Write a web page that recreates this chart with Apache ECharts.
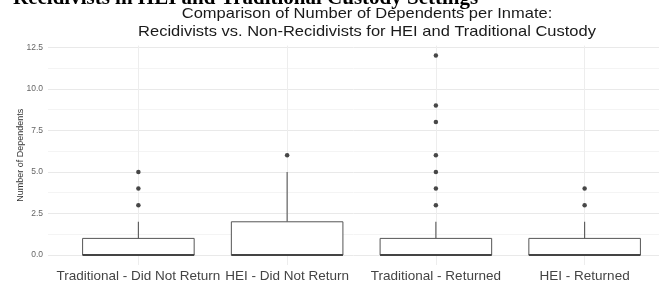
<!DOCTYPE html>
<html>
<head>
<meta charset="utf-8">
<script src="https://cdn.jsdelivr.net/npm/echarts@6/dist/echarts.min.js"></script>
<style>
  html, body { margin: 0; padding: 0; background: #fff; }
  #main { width: 659px; height: 284px; }
</style>
</head>
<body>
<div id="main"></div>
<script>
// groups on the x axis
var groups = [
  "Traditional - Did Not Return",
  "HEI - Did Not Return",
  "Traditional - Returned",
  "HEI - Returned"
];
// [min, Q1, median, Q3, max] (whisker ends)
var boxStats = [
  [0, 0, 0, 1, 2],
  [0, 0, 0, 2, 5],
  [0, 0, 0, 1, 2],
  [0, 0, 0, 1, 2]
];
// outliers per group
var outliers = [
  [3, 4, 5],
  [6],
  [3, 4, 5, 6, 8, 9, 12],
  [3, 4]
];
var yTicks = [0, 1.25, 2.5, 3.75, 5, 6.25, 7.5, 8.75, 10, 11.25, 12.5];
var yLabels = [0, 2.5, 5, 7.5, 10, 12.5];

var outlierPts = [];
outliers.forEach(function (list, i) {
  list.forEach(function (v) { outlierPts.push([i, v]); });
});
var boxData = boxStats.map(function (s, i) { return [i].concat(s); });

function renderBox(params, api) {
  var x = api.value(0);
  var pMin = api.coord([x, api.value(1)]);
  var pQ1 = api.coord([x, api.value(2)]);
  var pMed = api.coord([x, api.value(3)]);
  var pQ3 = api.coord([x, api.value(4)]);
  var pMax = api.coord([x, api.value(5)]);
  var w = api.size([1, 0])[0] * 0.75;
  var cx = pMed[0];
  var stroke = { stroke: "#555", lineWidth: 1.1, fill: null };
  return {
    type: "group",
    children: [
      { type: "line", shape: { x1: cx, y1: pQ3[1], x2: cx, y2: pMax[1] }, style: stroke },
      { type: "line", shape: { x1: cx, y1: pQ1[1], x2: cx, y2: pMin[1] }, style: stroke },
      {
        type: "rect",
        shape: { x: cx - w / 2, y: pQ3[1], width: w, height: pQ1[1] - pQ3[1] },
        style: { fill: "#fff", stroke: "#555", lineWidth: 1 }
      },
      {
        type: "line",
        shape: { x1: cx - w / 2, y1: pMed[1], x2: cx + w / 2, y2: pMed[1] },
        style: { stroke: "#444", lineWidth: 2 }
      }
    ]
  };
}

var myChart = echarts.init(document.getElementById("main"));
var option = {
  animation: false,
  graphic: [
    {
      type: "text", x: 13, y: 9,
      style: {
        text: "Recidivists in HEI and Traditional Custody Settings",
        font: "bold 21px 'Liberation Serif'", fill: "#000",
        verticalAlign: "bottom"
      }
    },
    {
      type: "text", x: 367, y: 5, scaleX: 1.1,
      style: {
        text: "Comparison of Number of Dependents per Inmate:\nRecidivists vs. Non-Recidivists for HEI and Traditional Custody",
        font: "15px 'Liberation Sans'", fill: "#1a1a1a",
        align: "center", verticalAlign: "top", lineHeight: 17.7
      }
    }
  ],
  grid: [
    { left: 64, right: -13, top: 45.6, bottom: 19 },
    { left: 48, right: -30, top: 45.6, bottom: 19 }
  ],
  xAxis: [
    {
      type: "category", gridIndex: 0, data: groups,
      axisLine: { show: false }, axisTick: { show: false },
      splitLine: { show: false },
      axisLabel: {
        margin: 4, color: "#444", fontSize: 13.5,
        fontFamily: "Liberation Sans", interval: 0
      }
    },
    {
      type: "value", gridIndex: 1, show: false
    }
  ],
  yAxis: [
    {
      type: "value", gridIndex: 0, min: -0.6, max: 12.6, show: false
    },
    {
      type: "value", gridIndex: 1, min: -0.6, max: 12.6,
      name: "Number of Dependents", nameLocation: "middle", nameGap: 23,
      nameMoveOverlap: false,
      nameTextStyle: { fontSize: 9, color: "#333", fontFamily: "Liberation Sans" },
      axisLine: { show: false },
      axisTick: { show: false, customValues: yTicks },
      axisLabel: {
        customValues: yLabels, margin: 5, fontSize: 8.5, color: "#666",
        fontFamily: "Liberation Sans",
        formatter: function (v) { return v.toFixed(1); }
      },
      splitLine: { lineStyle: { color: ["#e9e9e9", "#f4f4f4"], width: 1 } }
    }
  ],
  series: [
    {
      type: "scatter", xAxisIndex: 0, yAxisIndex: 0, data: [], z: 1,
      markLine: {
        z: 1, silent: true, symbol: "none", label: { show: false },
        lineStyle: { color: "#ededed", type: "solid", width: 1 },
        data: groups.map(function (g) { return { xAxis: g }; })
      }
    },
    {
      type: "custom", xAxisIndex: 0, yAxisIndex: 0, z: 3,
      renderItem: renderBox,
      encode: { x: 0, y: [1, 2, 3, 4, 5] },
      data: boxData
    },
    {
      type: "scatter", xAxisIndex: 0, yAxisIndex: 0, z: 4,
      symbolSize: 4.5,
      itemStyle: { color: "#1a1a1a" },
      data: outlierPts
    }
  ]
};
myChart.setOption(option);
</script>
</body>
</html>
